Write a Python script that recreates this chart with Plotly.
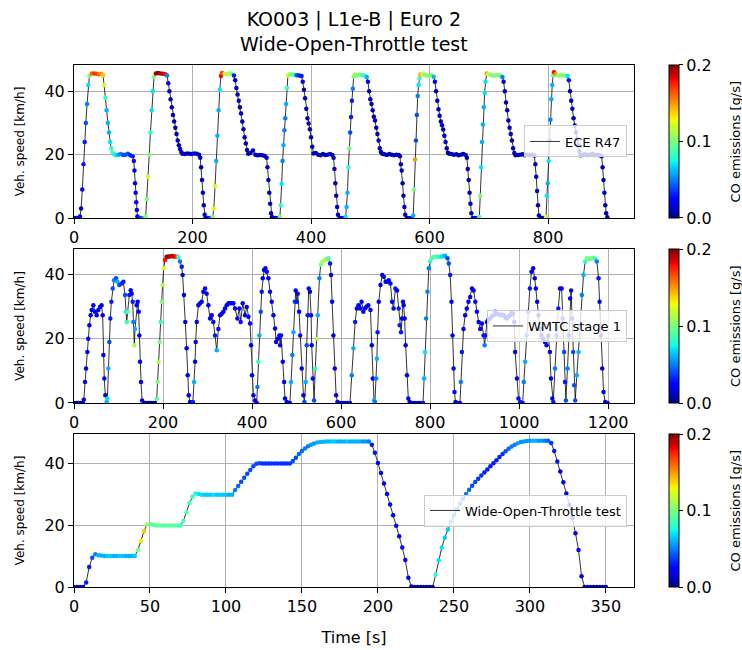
import plotly.graph_objects as go

# ---------------- ECE R47 (8 cycles) ----------------
ece_time = [
    0, 4, 8, 10, 12, 14, 16, 18, 20, 22, 24, 26, 30, 34, 38, 42, 46, 49, 51, 53, 55, 57, 59, 61, 63, 65, 67,
    71, 75, 79, 83, 87, 91, 95, 99, 101, 102, 103, 104, 105, 106, 107, 110,
    114, 118, 121, 123, 125, 127, 129, 131, 133, 135, 138, 142, 146, 150, 154, 157, 159, 161, 163, 165, 167, 169,
    171, 173, 175, 177, 179, 181, 183, 187, 191, 195, 199, 203, 207, 211, 213, 214.5, 216, 217.5, 219, 220.5, 222,
    226, 230, 234, 236, 238, 240, 242, 244, 246, 248, 250, 254, 258, 262, 266, 270, 272, 274, 276, 278, 280, 282,
    284, 286, 288, 290, 292, 294, 298, 302, 306, 310, 314, 318, 322, 325, 326.5, 328, 329.5, 331, 332.5, 334, 336,
    340, 344, 347.5, 349, 350.5, 352, 353.5, 355, 356.5, 358, 359.5, 361, 364, 368, 372, 376, 380, 384, 386, 388,
    390, 392, 394, 396, 398, 400, 402, 404, 408, 412, 416, 420, 424, 428, 432, 436, 438, 439.5, 441, 442.5, 444, 445.5, 448,
    452, 456, 458.5, 460, 461.5, 463, 464.5, 466, 467.5, 469, 470.5, 472, 474, 478, 482, 486, 490, 494, 496, 498,
    500, 502, 504, 506, 508, 510, 512, 514, 516, 518, 520, 524, 528, 532, 536, 540, 544, 548, 550, 551.5, 553,
    554.5, 556, 557.5, 559, 562,
    566, 570, 572.5, 574, 575.5, 577, 578.5, 580, 581.5, 583, 584.5, 587, 591, 595, 599, 603, 607, 609, 611, 613,
    615, 617, 619, 621, 623, 625, 627, 629, 631, 633, 637, 641, 645, 649, 653, 657, 661, 663, 664.5, 666, 667.5,
    669, 670.5, 673,
    676, 680, 684, 685.5, 687, 688.5, 690, 691.5, 693, 694.5, 696.5, 699, 703, 707, 711, 715, 719, 723, 725, 727,
    729, 731, 733, 735, 737, 739, 741, 743, 745, 749, 753, 757, 761, 765, 769, 773, 777, 778.5, 780, 781.5, 783,
    784.5, 788,
    792, 796.5, 798, 799.5, 801, 802.5, 804, 805.5, 807, 808.5, 810, 813, 817, 821, 825, 829, 833, 835, 837, 839,
    841, 843, 845, 847, 849, 851, 853, 855, 859, 863, 867, 871, 875, 879, 883, 887, 890.5, 892, 893.5, 895, 896.5,
    898, 900,
]
ece_speed = [
    0, 0, 0, 0.5, 3, 9, 17, 24, 30, 36, 42, 44.8, 45.6, 45.6, 45.5, 45.4, 45.5, 45, 42, 38, 34, 30, 27, 24, 22, 20.6, 20.2,
    19.8, 20, 20.2, 19.9, 20, 20.3, 19.8, 19.5, 18, 15, 11, 8, 5, 2.5, 0.5, 0,
    0, 0, 0.5, 6, 13, 20, 27, 34, 40, 44.5, 45.6, 45.8, 45.6, 45.5, 45.4, 45, 42.5, 40, 37.5, 35, 32.5, 30.5,
    28.5, 26.5, 24.5, 23, 21.8, 20.8, 20.3, 20.2, 20.4, 20.3, 20.2, 20.4, 20.3, 20, 19, 16, 12, 8, 4, 1, 0,
    0, 0, 0.3, 3, 10, 18, 26, 34, 40.5, 44.8, 45.8, 45.5, 45.4, 45.6, 45.5, 45, 43.5, 41, 39, 37, 35, 33,
    30.5, 28, 25.5, 23.5, 21.5, 20.3, 20.5, 21.3, 20, 19.8, 19.9, 19.8, 19.6, 19, 16, 12, 8, 4.5, 1.5, 0.3, 0,
    0, 0, 0.3, 4, 10.8, 18, 23, 27.7, 31.5, 36, 41, 45, 45.4, 45.3, 45.2, 45.1, 45, 44.8, 43, 40.5,
    37.8, 34.5, 31.5, 29.8, 28, 25.5, 22.5, 20.4, 20.5, 20, 19.8, 20.2, 19.9, 20, 20.2, 19.9, 19, 15.5, 11, 7, 3.5, 1, 0,
    0, 0, 0.3, 3.5, 8, 16, 22, 27, 31.9, 37, 40.8, 44.5, 45.3, 45, 45.2, 45.1, 45, 44.5, 43, 40,
    37.5, 36, 34, 32, 30.8, 28.5, 26.5, 24.5, 22, 20.8, 20.3, 20.1, 19.9, 20.2, 20, 19.8, 20, 19.9, 19.5, 17, 15,
    11, 7, 3.5, 1, 0,
    0, 0, 0.8, 9, 18.5, 24.5, 32.5, 38.5, 42, 44, 45.3, 45.4, 45.2, 45, 45, 45.1, 44.6, 43, 40, 37,
    34.3, 32.3, 30.5, 29.3, 27.9, 26, 24, 22, 20.6, 20.3, 20.2, 20, 20.1, 19.8, 20, 20.2, 19.9, 19, 15.5, 12, 8,
    4.5, 1.5, 0,
    0, 0, 0.3, 7, 16, 24, 29.5, 35, 39.5, 43, 45.6, 45.4, 45.2, 45, 45, 45.1, 45, 44.5, 43, 40,
    36.5, 34, 30.8, 28.5, 26.5, 24.5, 22, 20.5, 19.8, 19.9, 20, 20.1, 19.8, 20, 19.9, 20, 19.7, 17, 13, 8.5, 4,
    0.8, 0,
    0, 0.3, 7, 11, 18, 24.5, 31, 37.5, 42, 45, 46, 45.4, 45, 45.1, 45, 45, 44.8, 43.5, 40, 37,
    34.5, 31.5, 29.2, 27, 25, 23, 21, 19.8, 20, 20.1, 19.9, 20, 20.2, 19.9, 20, 19.8, 19.5, 16, 12, 8, 4,
    1.5, 0.2,
]
ece_co = [
    0.01, 0.01, 0.01, 0.02, 0.01, 0.02, 0.03, 0.03, 0.04, 0.05, 0.07, 0.1, 0.16, 0.17, 0.17, 0.16, 0.15, 0.14, 0.12, 0.08, 0.06, 0.06, 0.06, 0.07, 0.08, 0.09, 0.08,
    0.07, 0.06, 0.05, 0.04, 0.04, 0.04, 0.03, 0.03, 0.02, 0.02, 0.02, 0.02, 0.02, 0.02, 0.02, 0.03,
    0.04, 0.06, 0.1, 0.1, 0.12, 0.1, 0.08, 0.07, 0.07, 0.1, 0.19, 0.2, 0.19, 0.19, 0.18, 0.05, 0.02, 0.01, 0.01, 0.01, 0.01, 0.01,
    0.01, 0.01, 0.01, 0.01, 0.01, 0.01, 0.01, 0.01, 0.01, 0.01, 0.01, 0.01, 0.01, 0.01, 0.01, 0.01, 0.01, 0.01, 0.01, 0.01, 0.02,
    0.02, 0.04, 0.1, 0.12, 0.12, 0.06, 0.06, 0.06, 0.07, 0.18, 0.17, 0.12, 0.11, 0.11, 0.1, 0.03, 0.01, 0.01, 0.01, 0.01, 0.01, 0.01,
    0.01, 0.01, 0.01, 0.01, 0.01, 0.01, 0.01, 0.01, 0.01, 0.01, 0.01, 0.01, 0.01, 0.01, 0.01, 0.01, 0.01, 0.01, 0.01, 0.01, 0.01,
    0.02, 0.03, 0.1, 0.08, 0.07, 0.05, 0.06, 0.05, 0.05, 0.06, 0.08, 0.12, 0.11, 0.1, 0.08, 0.04, 0.03, 0.03, 0.02, 0.01,
    0.01, 0.01, 0.01, 0.01, 0.01, 0.01, 0.01, 0.01, 0.01, 0.01, 0.01, 0.01, 0.01, 0.01, 0.01, 0.01, 0.01, 0.01, 0.01, 0.01, 0.01, 0.01, 0.01,
    0.02, 0.03, 0.07, 0.06, 0.06, 0.08, 0.1, 0.04, 0.03, 0.03, 0.05, 0.1, 0.11, 0.1, 0.1, 0.09, 0.08, 0.06, 0.02, 0.01,
    0.01, 0.01, 0.01, 0.01, 0.01, 0.01, 0.01, 0.01, 0.01, 0.01, 0.01, 0.01, 0.01, 0.01, 0.01, 0.01, 0.01, 0.01, 0.01, 0.01, 0.01,
    0.01, 0.01, 0.01, 0.01, 0.01,
    0.02, 0.03, 0.06, 0.1, 0.15, 0.04, 0.04, 0.05, 0.07, 0.08, 0.15, 0.12, 0.11, 0.1, 0.1, 0.1, 0.06, 0.02, 0.01, 0.01,
    0.01, 0.01, 0.01, 0.01, 0.01, 0.01, 0.01, 0.01, 0.01, 0.01, 0.01, 0.01, 0.01, 0.01, 0.01, 0.01, 0.01, 0.01, 0.01, 0.01, 0.01,
    0.01, 0.01, 0.01,
    0.02, 0.03, 0.09, 0.1, 0.07, 0.06, 0.06, 0.06, 0.07, 0.07, 0.15, 0.12, 0.1, 0.1, 0.1, 0.1, 0.1, 0.05, 0.02, 0.01,
    0.01, 0.01, 0.01, 0.01, 0.01, 0.01, 0.01, 0.01, 0.01, 0.01, 0.01, 0.01, 0.01, 0.01, 0.01, 0.01, 0.01, 0.01, 0.01, 0.01, 0.01,
    0.01, 0.01,
    0.02, 0.12, 0.07, 0.06, 0.07, 0.05, 0.05, 0.06, 0.06, 0.09, 0.18, 0.15, 0.11, 0.1, 0.1, 0.1, 0.07, 0.03, 0.01, 0.01,
    0.01, 0.01, 0.01, 0.01, 0.01, 0.01, 0.01, 0.01, 0.01, 0.01, 0.01, 0.01, 0.01, 0.01, 0.01, 0.01, 0.01, 0.01, 0.01, 0.01, 0.01,
    0.01, 0.01,
]

# ---------------- WMTC stage 1 ----------------
wmtc_time = [
    0, 5, 10, 15, 20, 22, 24.7, 27, 30, 32, 34.5, 37.5, 39.7, 43.4, 47, 51, 54.7, 58.4, 62, 64.4, 66, 68, 70.4,
    73.4, 75, 77, 79.4, 81.6, 84, 87, 90, 94.4, 97.4, 101.9, 107, 110.9, 114.6, 117, 118.4, 120.6, 124.3, 127.3,
    129.6, 131.8, 133.3, 135.6, 137, 140.8, 143, 145.3, 146.8, 148.3, 150.5, 153,
    158, 163, 168, 173, 178, 182, 185.8, 188, 190, 192.5, 194.8, 197, 199, 201.5, 204.5, 208, 212, 216, 220, 224,
    228, 232, 234.5, 238, 242, 244, 247, 250, 253, 255.4, 257.7, 260.7, 264,
    267, 269.7, 272, 273.4, 275.7, 279.4, 283, 286.9, 290.6, 294.4, 298, 301.9, 305.6, 309.4, 313, 316.8, 320.6,
    324.3, 328, 331.8, 335.6, 339.3, 343, 347, 350.6, 354, 358, 361.8, 367, 371.5, 374.5, 379, 384.3, 388, 391.8,
    395.5, 397.8, 400, 403, 406.7,
    410.5, 412, 414, 416.5, 419.5, 421.7, 424, 427, 430, 433, 436.7, 440.4, 444.2, 448, 451.7, 454, 457.7, 461.4,
    463, 465, 469, 472, 474, 478, 482, 485,
    487.6, 490.6, 493, 495.9, 498, 500.4, 502.6, 505.6, 508, 511.6, 515.4, 517.6, 520.6, 522.8, 525, 527.3, 530,
    532.6, 534, 536.3, 539.3, 542, 545, 547.6, 551.3, 554.3, 558, 564, 568, 571.5, 575.3, 577.5, 579.8, 582.8,
    585.8, 588.8, 591.8,
    596, 600, 605, 610, 615, 620, 624, 627.7, 631.5, 635.2, 639, 642.7, 646, 650, 654, 657.3, 661, 666, 668.9, 671, 674,
    676, 678.6, 680.4, 682, 684.6, 688.6, 692.4, 696, 700, 703, 707, 710.8, 714.6, 718, 721.8, 725.6, 729.4, 731.6,
    734.6, 737, 739, 740.6, 742.8, 745, 748, 751, 754,
    760, 766, 772, 778, 784, 786.5, 788.8, 791, 794, 797, 800, 803.6, 807, 811, 815, 819, 822.5, 826, 830, 833.7,
    839, 842, 845, 848, 850.3, 852.6, 854.8, 857, 862,
    867, 869, 871.3, 875, 878.7, 882.4, 886, 890, 894, 897.7, 901.5, 905, 909, 912.6, 916.4, 920, 922.5, 924.6,
    927.7, 931, 935, 938.5, 942.6, 946.3, 950, 954, 957.5, 961, 965, 969, 972.5, 976, 980, 983, 986, 989, 991, 995,
    998.5, 1002.2, 1008,
    1010.5, 1013.5, 1016.5, 1020, 1024, 1027.7, 1031.5, 1035, 1037.5, 1040.5, 1043.5, 1046.5, 1050, 1054, 1058,
    1061.5, 1065.4, 1069, 1071.5, 1074.5, 1076.7,
    1080.5, 1084, 1088, 1091.7, 1095.5, 1098, 1101, 1103, 1105, 1108.6, 1111.6, 1114.6, 1116.8, 1119, 1121.4,
    1123.6, 1126, 1129.6, 1133.3, 1137, 1140.8, 1144.6, 1148.3, 1152, 1156, 1159.6, 1163, 1167, 1171, 1174.6,
    1178.4, 1180.6, 1183.6, 1186.6, 1189.6, 1193.3, 1198.5,
]
wmtc_speed = [
    0, 0, 0, 0, 0, 1, 6.5, 10.7, 15.9, 20, 24.2, 27.3, 28.9, 30.4, 28.4, 27.3, 28.9, 29.9, 30.4, 27.3, 14.9, 7.6, 2.4,
    0.3, 1.4, 10.7, 19, 26.3, 31.5, 35.6, 38.2, 38.8, 37.7, 36.7, 37.2, 37.7, 33.6, 28.4, 25.2, 28.4, 33.6, 35.1,
    34, 31.5, 25.2, 18, 23, 30.4, 31.5, 28.4, 21, 12.8, 6.5, 0.8,
    0, 0, 0, 0, 0, 0, 1.3, 6.5, 12.8, 19, 25.2, 31.5, 36.7, 41.9, 44.5, 45.5, 45.6, 45.6, 45.7, 45.6,
    45.6, 45.5, 45.5, 44, 42.4, 39.8, 33.6, 25.2, 17, 8.6, 2.4, 0.3, 0,
    0.3, 6.5, 12.8, 19, 25.2, 30.4, 31, 31.5, 34.6, 35.6, 34, 30.4, 26.3, 27.3, 25.2, 21, 16.4,
    23, 27.3, 27.8, 28.4, 29.4, 30.4, 31, 31, 31, 31, 29.4, 26.3, 29.4, 25.2, 31, 27.3, 29.9, 26.8,
    24.7, 18, 8.6, 2.4, 0.8,
    0, 5, 12.8, 21, 28.4, 34.6, 38.8, 41.4, 41.9, 40.8, 38.8, 34.6, 31.5, 27.3, 23.2, 19, 20, 21,
    18, 21, 12.8, 6.5, 1.4, 0.3, 0, 0,
    6.5, 14.9, 22, 31.5, 35, 31.5, 34, 28.4, 21, 10.7, 2.4, 0.3, 6.5, 18, 27.3, 35.6, 34.6,
    27.3, 18, 7.6, 0.8, 10.7, 20, 27.3, 38.8, 43, 44, 44.5, 44.8, 45, 43.4, 39.8, 31.5, 21,
    10.7, 2.4, 0.3,
    0, 0, 0, 0, 0, 0, 8.6, 17, 25.2, 29.4, 30.4, 29.4, 31.5, 28.4, 29.5, 30, 30.4, 28.9, 18, 7.6, 0.8,
    0.3, 7.6, 13.8, 22, 31.5, 36.7, 39.8, 39.3, 37.7, 37.7, 38.2, 37.2, 31.5, 29.4, 35.6, 35, 29.4, 24.2,
    22, 26.3, 31.5, 30.4, 26.3, 18, 8.6, 1.4, 0.3,
    0, 0, 0, 0, 0, 7.6, 15.9, 26.3, 34.6, 41.9, 44, 45, 45.3, 45.5, 45.5, 45.5, 45.5, 45.6, 45.7, 45.8,
    45, 43.4, 39.8, 31.5, 21, 10.7, 3.4, 0.3, 0,
    0, 6.5, 15.9, 23, 27.3, 29.4, 31.5, 33, 35.6, 35, 31.5, 28.4, 25.2, 23, 24.7, 21, 18, 21,
    25.2, 26, 26.3, 27, 27.3, 28.4, 27.8, 27.5, 27.3, 27.5, 27.3, 26.5, 26.3, 27, 27.3, 28, 27.8, 25.2, 15.9, 7.6,
    1.4, 0.3, 0,
    6.5, 12.8, 21, 28.4, 35.6, 40.8, 41.9, 38.8, 35.6, 31.5, 27.3, 23.2, 21, 20, 19,
    18, 21, 15.9, 7.6, 1.4, 0.3,
    10.7, 21, 29.4, 35.6, 35.6, 26.3, 15.9, 6.5, 0.8, 10.7, 21, 32.5, 35, 26.3, 15.9,
    5.5, 0.8, 8.6, 15.9, 24.2, 33.6, 39.8, 44, 45, 44.9, 44.8, 45, 45.2, 44.8, 44,
    38.8, 31.5, 21, 10.7, 3.4, 0.3, 0,
]
wmtc_co = [
    0.01, 0.01, 0.01, 0.01, 0.01, 0.02, 0.02, 0.02, 0.02, 0.02, 0.02, 0.02, 0.02, 0.02, 0.02, 0.02, 0.02, 0.02, 0.02, 0.02, 0.02, 0.02, 0.02,
    0.06, 0.07, 0.06, 0.04, 0.03, 0.03, 0.04, 0.05, 0.04, 0.06, 0.04, 0.03, 0.03, 0.04, 0.07, 0.08, 0.09, 0.03, 0.02,
    0.02, 0.03, 0.05, 0.11, 0.06, 0.02, 0.02, 0.02, 0.02, 0.02, 0.02, 0.02,
    0.01, 0.01, 0.01, 0.01, 0.01, 0.01, 0.09, 0.1, 0.11, 0.1, 0.08, 0.1, 0.11, 0.12, 0.18, 0.19, 0.2, 0.19, 0.19, 0.19,
    0.18, 0.17, 0.08, 0.05, 0.03, 0.02, 0.02, 0.02, 0.02, 0.02, 0.02, 0.02, 0.02,
    0.03, 0.06, 0.02, 0.02, 0.02, 0.02, 0.02, 0.02, 0.02, 0.02, 0.02, 0.02, 0.02, 0.02, 0.02, 0.03, 0.06,
    0.02, 0.02, 0.02, 0.02, 0.02, 0.02, 0.02, 0.02, 0.02, 0.02, 0.02, 0.02, 0.02, 0.02, 0.02, 0.02, 0.02, 0.02,
    0.02, 0.02, 0.02, 0.02, 0.02,
    0.02, 0.05, 0.08, 0.06, 0.04, 0.03, 0.02, 0.02, 0.02, 0.02, 0.02, 0.02, 0.02, 0.02, 0.02, 0.02, 0.02, 0.02,
    0.02, 0.02, 0.02, 0.02, 0.02, 0.02, 0.02, 0.02,
    0.06, 0.05, 0.06, 0.04, 0.02, 0.03, 0.02, 0.02, 0.02, 0.02, 0.02, 0.04, 0.06, 0.04, 0.03, 0.02, 0.02,
    0.02, 0.02, 0.02, 0.04, 0.08, 0.11, 0.06, 0.05, 0.1, 0.11, 0.11, 0.1, 0.09, 0.03, 0.02, 0.02, 0.02,
    0.02, 0.02, 0.02,
    0.02, 0.02, 0.02, 0.02, 0.02, 0.02, 0.05, 0.06, 0.03, 0.02, 0.02, 0.02, 0.02, 0.02, 0.02, 0.02, 0.02, 0.02, 0.02, 0.02, 0.06,
    0.05, 0.05, 0.06, 0.03, 0.02, 0.02, 0.02, 0.02, 0.02, 0.02, 0.02, 0.02, 0.02, 0.02, 0.03, 0.02, 0.03, 0.03,
    0.03, 0.02, 0.02, 0.02, 0.02, 0.02, 0.02, 0.02, 0.02,
    0.02, 0.02, 0.02, 0.02, 0.03, 0.06, 0.07, 0.05, 0.05, 0.05, 0.08, 0.09, 0.09, 0.09, 0.09, 0.08, 0.08, 0.07, 0.07, 0.06,
    0.04, 0.04, 0.03, 0.02, 0.02, 0.02, 0.02, 0.02, 0.02,
    0.02, 0.05, 0.03, 0.02, 0.02, 0.02, 0.02, 0.02, 0.02, 0.02, 0.02, 0.02, 0.02, 0.02, 0.02, 0.03, 0.05, 0.03,
    0.02, 0.02, 0.02, 0.02, 0.02, 0.02, 0.02, 0.02, 0.02, 0.02, 0.02, 0.02, 0.02, 0.02, 0.02, 0.02, 0.02, 0.02, 0.02, 0.02,
    0.02, 0.03, 0.03,
    0.05, 0.06, 0.05, 0.04, 0.03, 0.02, 0.02, 0.02, 0.02, 0.02, 0.02, 0.02, 0.02, 0.02, 0.02,
    0.02, 0.02, 0.02, 0.02, 0.02, 0.03,
    0.05, 0.04, 0.03, 0.02, 0.02, 0.03, 0.04, 0.03, 0.04, 0.05, 0.03, 0.02, 0.02, 0.03, 0.04,
    0.04, 0.04, 0.06, 0.06, 0.05, 0.05, 0.06, 0.08, 0.1, 0.1, 0.09, 0.1, 0.1, 0.08, 0.05,
    0.03, 0.02, 0.02, 0.02, 0.02, 0.02, 0.02,
]

# ---------------- Wide-Open-Throttle test ----------------
wot_time = [
    0, 2, 4, 6, 8, 10, 12, 14, 16, 18, 20, 22, 24, 26, 28, 30, 32, 34, 36, 38, 40, 42, 44, 46, 48, 50,
    52, 54, 56, 58, 60, 62, 64, 66, 68, 70, 72, 74, 76, 78, 80, 82, 84, 86, 88, 90, 92, 94, 96, 98, 100,
    102, 104, 106, 108, 110, 112, 114, 116, 118, 120, 122, 124, 126, 128, 130, 132, 134, 136, 138, 140,
    142, 144, 146, 148, 150, 152, 154, 156, 158, 160, 162, 164, 166, 168, 170, 172, 174, 176, 178, 180,
    182, 184, 186, 188, 190, 192, 194, 196, 198, 200, 202, 204, 206, 208, 210, 212, 214, 216, 218, 220,
    222, 224, 226, 228, 230, 232, 234, 236, 238, 240, 242, 244, 246, 248, 250, 252, 254, 256, 258, 260,
    262, 264, 266, 268, 270, 272, 274, 276, 278, 280, 282, 284, 286, 288, 290, 292, 294, 296, 298, 300,
    302, 304, 306, 308, 310, 312, 314, 316, 318, 320, 322, 324, 326, 328, 330, 332, 334, 336, 338, 340,
    342, 344, 346, 348, 350,
]
wot_speed = [
    0, 0, 0, 0, 1.5, 6.5, 9.5, 10.6, 10.3, 10.2,
    10.1, 10.1, 10.1, 10.1, 10.1, 10.1, 10.1, 10.1, 10.1, 10.1, 10.1,
    11.9, 15, 18, 20.3, 20.5, 20.2,
    20, 20, 20, 20, 20, 20, 20, 20, 20,
    21.5, 24.3, 27.3, 29.3, 30.4, 30.2,
    30, 30, 30, 30, 30, 30, 30, 30, 30, 30, 30,
    31.5, 32.8, 34.2, 35.5, 36.8, 38, 39.2, 40, 40.2,
    40.1, 40.1, 40.1, 40.1, 40.1, 40.1, 40.1, 40.1, 40.1, 40.1,
    40.9, 42, 43.2, 44.2, 45, 45.7, 46.2, 46.6, 46.9, 47.1, 47.2,
    47.3, 47.3, 47.3, 47.3, 47.3, 47.3, 47.3, 47.3, 47.3, 47.3, 47.3, 47.3, 47.3, 47.3, 47.3,
    46.2, 43.6, 40.3, 37, 33.6, 30.2, 26.8, 23.3, 19.9, 16.5, 12.8, 8.8, 3, 0.2,
    0, 0, 0, 0, 0, 0, 0,
    4, 8.7, 12.8, 16, 18.7, 21.2, 23.3, 25.3, 27.1, 28.7, 30.2, 31.6, 32.9, 34.1, 35.2, 36.2,
    37.2, 38.2, 39.2, 40.2, 41.2, 42.2, 43.2, 44.1, 44.9, 45.6, 46.2, 46.7, 47.1, 47.3, 47.4,
    47.5, 47.5, 47.5, 47.5, 47.5, 47.5, 47.5,
    46.8, 44.2, 40.8, 37.5, 34, 30.4, 26.6, 22.3, 17.5, 12, 3.5, 0,
    0, 0, 0, 0, 0, 0, 0,
]
wot_co = [
    0.02, 0.02, 0.02, 0.02, 0.03, 0.03, 0.04, 0.05, 0.06, 0.06,
    0.06, 0.065, 0.065, 0.06, 0.06, 0.065, 0.065, 0.06, 0.06, 0.06, 0.065,
    0.1, 0.13, 0.14, 0.11, 0.095, 0.09,
    0.09, 0.095, 0.09, 0.09, 0.095, 0.09, 0.09, 0.09, 0.085,
    0.09, 0.09, 0.085, 0.08, 0.075, 0.07,
    0.07, 0.065, 0.065, 0.065, 0.07, 0.065, 0.065, 0.065, 0.065, 0.06, 0.06,
    0.05, 0.045, 0.04, 0.04, 0.04, 0.04, 0.04, 0.04, 0.04,
    0.035, 0.035, 0.035, 0.035, 0.035, 0.035, 0.035, 0.035, 0.035, 0.035,
    0.04, 0.04, 0.045, 0.045, 0.05, 0.05, 0.055, 0.055, 0.06, 0.06, 0.06,
    0.06, 0.06, 0.065, 0.065, 0.06, 0.06, 0.06, 0.065, 0.06, 0.06, 0.06, 0.06, 0.055, 0.055, 0.05,
    0.03, 0.03, 0.025, 0.025, 0.025, 0.025, 0.025, 0.025, 0.025, 0.025, 0.025, 0.025, 0.02, 0.02,
    0.015, 0.015, 0.015, 0.015, 0.015, 0.015, 0.015,
    0.08, 0.07, 0.07, 0.065, 0.065, 0.06, 0.055, 0.055, 0.05, 0.05, 0.05, 0.045, 0.04, 0.04, 0.035, 0.035,
    0.03, 0.03, 0.03, 0.03, 0.03, 0.03, 0.035, 0.04, 0.045, 0.05, 0.05, 0.055, 0.055, 0.055, 0.055,
    0.055, 0.06, 0.06, 0.055, 0.055, 0.05, 0.045,
    0.035, 0.03, 0.03, 0.025, 0.025, 0.025, 0.025, 0.025, 0.025, 0.025, 0.02, 0.015,
    0.015, 0.015, 0.015, 0.015, 0.015, 0.015, 0.015,
]

panel_labels = ["ECE R47", "WMTC stage 1", "Wide-Open-Throttle test"]
x_ticks = [[0, 200, 400, 600, 800], [0, 200, 400, 600, 800, 1000, 1200], [0, 50, 100, 150, 200, 250, 300, 350]]
x_ranges = [[0, 945], [0, 1258], [0, 368.5]]
y_ranges = [[0, 48.3], [0, 47.9], [0, 49.7]]
co_ticks = [0, 0.1, 0.2]
co_ticktext = ["0.0", "0.1", "0.2"]

series = [(ece_time, ece_speed, ece_co), (wmtc_time, wmtc_speed, wmtc_co), (wot_time, wot_speed, wot_co)]
for t, v, c in series:
    assert len(t) == len(v) == len(c), (len(t), len(v), len(c))

JET = [[0.0, 'rgb(0,0,128)'], [0.11, 'rgb(0,0,255)'], [0.125, 'rgb(0,0,255)'],
       [0.34, 'rgb(0,219,255)'], [0.35, 'rgb(0,229,247)'], [0.375, 'rgb(21,255,226)'],
       [0.5, 'rgb(123,255,123)'], [0.64, 'rgb(238,255,8)'], [0.65, 'rgb(247,245,0)'],
       [0.66, 'rgb(255,236,0)'], [0.89, 'rgb(255,19,0)'], [0.91, 'rgb(232,0,0)'],
       [1.0, 'rgb(128,0,0)']]

FONT = "DejaVu Sans"
domains = [[0.7069, 1.0], [0.3525, 0.6475], [0.0, 0.2931]]

fig = go.Figure()
layout = dict(
    width=742, height=650,
    margin=dict(l=74, r=108, t=65, b=63, autoexpand=False),
    paper_bgcolor="white", plot_bgcolor="white",
    font=dict(family=FONT, color="black"),
    showlegend=True,
)
annotations = [dict(text="KO003 | L1e-B | Euro 2<br>Wide-Open-Throttle test",
                    x=0.5, xref="paper", y=1, yref="paper", yanchor="bottom",
                    yshift=8, showarrow=False, font=dict(size=19, family=FONT))]

for i, (t, v, c) in enumerate(series):
    n = i + 1
    sfx = "" if n == 1 else str(n)
    xa, ya = "x" + sfx, "y" + sfx
    ca = "coloraxis" + sfx
    lg = "legend" + sfx
    fig.add_trace(go.Scatter(x=t, y=v, mode="lines", name=panel_labels[i],
                             line=dict(color="black", width=0.8),
                             xaxis=xa, yaxis=ya, legend=lg, showlegend=True, hoverinfo="skip"))
    fig.add_trace(go.Scatter(x=t, y=v, mode="markers", showlegend=False,
                             marker=dict(color=c, coloraxis=ca, size=4.5, line=dict(width=0)),
                             xaxis=xa, yaxis=ya))
    axis_common = dict(showline=True, linecolor="black", linewidth=1, mirror=True,
                       ticks="outside", ticklen=5, tickwidth=1, tickcolor="black",
                       showgrid=True, gridcolor="#b0b0b0", gridwidth=1, zeroline=False,
                       automargin=False,
                       tickfont=dict(size=16, family=FONT, color="black"))
    xdict = dict(axis_common, domain=[0, 1], anchor=ya, range=x_ranges[i], tickvals=x_ticks[i])
    if n == 3:
        xdict["title"] = dict(text="Time [s]", font=dict(size=16, family=FONT), standoff=16)
    ydict = dict(axis_common, domain=domains[i], anchor=xa, range=y_ranges[i], tickvals=[0, 20, 40],
                 title=dict(text="Veh. speed [km/h]", font=dict(size=12, family=FONT), standoff=17))
    layout["xaxis" + sfx] = xdict
    layout["yaxis" + sfx] = ydict
    dmid = (domains[i][0] + domains[i][1]) / 2
    layout[ca] = dict(cmin=0, cmax=0.2, colorscale=JET,
                      colorbar=dict(x=1.0625, xanchor="left", xpad=0, y=dmid, yanchor="middle",
                                    len=domains[i][1] - domains[i][0], lenmode="fraction", ypad=0,
                                    thickness=10, thicknessmode="pixels",
                                    outlinewidth=1, outlinecolor="black",
                                    ticks="outside", ticklen=4, tickcolor="black",
                                    tickvals=co_ticks, ticktext=co_ticktext,
                                    tickfont=dict(size=16, family=FONT)))
    annotations.append(dict(text="CO emissions [g/s]", textangle=-90, x=1.1804, xref="paper",
                            xanchor="center", y=dmid, yref="paper", yanchor="middle",
                            showarrow=False, font=dict(size=13, family=FONT)))
    layout[lg] = dict(x=0.9875, xanchor="right", y=dmid, yanchor="middle",
                      bgcolor="rgba(255,255,255,0.8)", bordercolor="#cccccc", borderwidth=1,
                      font=dict(size=13, family=FONT))

layout["annotations"] = annotations
fig.update_layout(**layout)
fig.write_html("out.html", config={"displayModeBar": False},
               post_script="document.body.style.margin='0';")
